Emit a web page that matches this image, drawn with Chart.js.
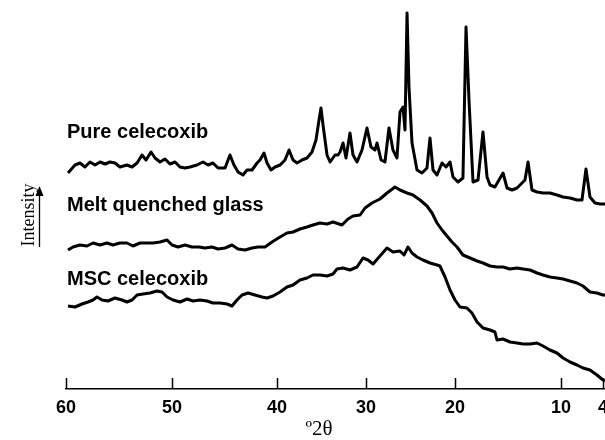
<!DOCTYPE html>
<html>
<head>
<meta charset="utf-8">
<script src="https://cdn.jsdelivr.net/npm/chart.js@4.4.1/dist/chart.umd.min.js"></script>
<style>
  html, body { margin: 0; padding: 0; background: #fff; }
  #wrap { width: 605px; height: 440px; position: relative; }
</style>
</head>
<body>
<div id="wrap"><canvas id="xrpd"></canvas></div>
<script>
// degrees 2-theta, and intensity (arbitrary, offsets included)
var TICK_VALUES = [60, 50, 40, 30, 20, 10, 4];

var PURE = [
    [59.81,216],[59.15,224],[58.68,226],[58.21,222],[57.74,227],[57.26,224],[56.79,227],[56.32,225],
    [55.85,227],[55.38,226],[54.91,222],[54.25,224],[53.77,222],[53.30,226],[52.83,234],[52.45,229],
    [51.98,237],[51.60,231],[51.13,227],[50.66,230],[50.19,225],[49.71,227],[49.24,222],[48.76,221],
    [48.29,222],[47.62,224],[47.05,227],[46.57,224],[46.10,226],[45.62,221],[44.95,221],[44.48,234],
    [44.10,224],[43.71,217],[43.24,214],[42.86,219],[42.38,219],[41.90,226],[41.62,229],[41.24,236],
    [40.95,226],[40.57,219],[40.19,222],[39.66,224],[39.10,229],[38.65,239],[38.20,229],[37.75,226],
    [37.19,229],[36.63,231],[36.07,237],[35.62,249],[35.28,269],[35.06,281],[34.83,264],[34.38,234],
    [34.04,227],[33.48,234],[33.15,234],[32.92,237],[32.58,246],[32.25,231],[31.80,256],[31.46,234],
    [31.01,227],[30.45,239],[29.89,261],[29.44,242],[28.99,239],[28.76,246],[28.31,229],[27.87,227],
    [27.42,261],[26.97,239],[26.52,231],[26.18,277],[25.84,282],[25.62,259],[25.39,376],[25.17,302],
    [24.83,246],[24.27,219],[23.71,216],[23.15,221],[22.81,251],[22.47,219],[22.02,214],[21.46,226],
    [21.01,222],[20.56,227],[20.22,212],[19.72,207],[19.25,211],[18.96,362],[18.68,289],[18.30,207],
    [17.83,209],[17.36,257],[16.98,212],[16.70,204],[16.23,202],[15.47,216],[15.09,201],[14.62,199],
    [14.15,201],[13.68,206],[13.40,209],[13.11,227],[12.74,199],[12.26,197],[11.70,196],[11.04,196],
    [10.38,194],[9.71,192],[8.71,191],[7.71,189],[7.00,189],[6.43,220],[5.86,192],[5.14,186],
    [4.43,185],[3.71,185]
];

var MELT = [
    [59.81,139],[59.34,142],[58.68,144],[58.02,143],[57.45,146],[56.79,144],[56.13,146],[55.57,144],
    [54.91,146],[54.25,146],[53.68,143],[53.02,146],[52.36,146],[51.79,146],[51.13,147],[50.47,149],
    [50.00,144],[49.43,142],[48.76,144],[48.10,142],[47.43,142],[46.86,141],[46.19,142],[45.62,140],
    [44.95,141],[44.29,144],[43.71,140],[43.05,139],[42.38,141],[41.81,142],[41.14,142],[40.48,147],
    [39.66,152],[38.88,156],[38.20,157],[37.42,160],[36.63,162],[35.96,164],[35.17,166],[34.38,165],
    [33.71,167],[32.70,164],[32.02,170],[31.46,173],[30.67,174],[30.11,181],[29.33,186],[28.43,190],
    [27.64,196],[26.74,202],[26.18,199],[25.39,196],[24.72,194],[23.93,189],[23.15,183],[22.58,176],
    [22.02,166],[21.46,159],[20.90,153],[20.34,147],[19.81,142],[19.25,134],[18.58,131],[17.92,128],
    [17.36,126],[16.70,123],[16.04,122],[15.47,122],[14.81,120],[14.15,121],[13.58,120],[12.92,119],
    [12.26,116],[11.70,114],[11.04,112],[10.38,111],[9.71,110],[8.71,108],[7.71,106],[6.86,103],
    [5.86,97],[4.86,96],[4.00,94],[3.71,94]
];

var MSC = [
    [59.81,83],[59.15,82],[58.49,85],[57.92,87],[57.45,89],[57.08,92],[56.60,89],[56.04,88],
    [55.38,91],[54.72,89],[54.25,87],[53.77,89],[53.30,94],[52.74,95],[52.08,96],[51.42,98],
    [50.94,97],[50.47,92],[49.90,89],[49.24,87],[48.57,90],[48.00,88],[47.33,89],[46.67,88],
    [46.10,86],[45.43,86],[44.76,85],[44.29,83],[43.81,89],[43.33,94],[42.76,96],[42.10,94],
    [41.43,92],[40.95,91],[40.38,93],[39.66,97],[38.88,102],[38.20,104],[37.42,109],[36.63,111],
    [35.96,114],[35.17,114],[34.38,113],[33.71,115],[33.26,120],[32.58,121],[31.80,119],[31.01,122],
    [30.34,131],[29.78,129],[29.21,125],[28.43,133],[27.64,141],[26.97,137],[26.18,138],[25.73,134],
    [25.28,142],[24.83,136],[24.27,132],[23.60,129],[22.81,126],[22.02,124],[21.69,123],[21.12,112],
    [20.56,99],[20.00,89],[19.53,82],[18.87,81],[18.40,76],[17.92,67],[17.36,61],[16.70,59],
    [16.23,57],[16.04,49],[15.47,50],[14.81,47],[14.15,46],[13.58,45],[12.92,45],[12.26,46],
    [11.70,43],[11.04,39],[10.38,36],[9.71,31],[8.71,27],[7.71,24],[6.86,21],[5.86,19],
    [4.86,14],[4.00,9],[3.71,8]
];

var TRACE_LABELS = ['Pure celecoxib', 'Melt quenched glass', 'MSC celecoxib'];

// the printed 2-theta axis is not evenly spaced; these knots follow its tick marks
var AXIS_KNOTS = [[60, 0], [50, 0.1967], [40, 0.3915], [30, 0.5566], [20, 0.7217], [10, 0.9184], [3.71, 1]];

function warpFraction(v) {
    for (var i = 0; i < AXIS_KNOTS.length - 1; i++) {
        var a = AXIS_KNOTS[i], b = AXIS_KNOTS[i + 1];
        if (v <= a[0] && v >= b[0]) {
            return a[1] + (a[0] - v) / (a[0] - b[0]) * (b[1] - a[1]);
        }
    }
    return v > 60 ? 0 : 1;
}

function unwarp(f) {
    for (var i = 0; i < AXIS_KNOTS.length - 1; i++) {
        var a = AXIS_KNOTS[i], b = AXIS_KNOTS[i + 1];
        if (f >= a[1] && f <= b[1]) {
            return a[0] - (f - a[1]) / (b[1] - a[1]) * (a[0] - b[0]);
        }
    }
    return f < 0 ? 60 : 3.71;
}

class WarpScale extends Chart.LinearScale {
    buildTicks() {
        return TICK_VALUES.map(function(v) { return { value: v }; });
    }
    getPixelForValue(value) {
        return this.getPixelForDecimal(warpFraction(value));
    }
    getValueForPixel(pixel) {
        return unwarp(this.getDecimalForPixel(pixel));
    }
}
WarpScale.id = 'warp';
WarpScale.defaults = Chart.LinearScale.defaults;
Chart.register(WarpScale);

function toPoints(rows) {
    return rows.map(function(r) { return { x: r[0], y: r[1] }; });
}

var decorPlugin = {
    id: 'decor',
    afterDraw: function(chart) {
        var ctx = chart.ctx;
        var xs = chart.scales.x;
        var area = chart.chartArea;
        ctx.save();
        // tick marks point up into the plot
        ctx.strokeStyle = '#000';
        ctx.lineWidth = 1.5;
        xs.ticks.forEach(function(t) {
            var px = Math.round(xs.getPixelForValue(t.value)) + 0.5;
            ctx.beginPath();
            ctx.moveTo(px, area.bottom);
            ctx.lineTo(px, area.bottom - 11);
            ctx.stroke();
        });

        // trace names
        ctx.fillStyle = '#000';
        ctx.font = 'bold 20px "Liberation Sans", Arial, sans-serif';
        ctx.textAlign = 'left';
        ctx.textBaseline = 'alphabetic';
        ctx.fillText(TRACE_LABELS[0], 67, 138);
        ctx.fillText(TRACE_LABELS[1], 67, 211);
        ctx.fillText(TRACE_LABELS[2], 67, 285);

        // axis title
        ctx.font = '21px "Liberation Serif", "Times New Roman", serif';
        ctx.textAlign = 'center';
        ctx.fillText('\u00BA2\u03B8', 319, 435);

        // intensity label + arrow
        ctx.save();
        ctx.translate(34, 215);
        ctx.rotate(-Math.PI / 2);
        ctx.font = '18px "Liberation Serif", "Times New Roman", serif';
        ctx.fillText('Intensity', 0, 0);
        ctx.restore();

        ctx.lineWidth = 1.3;
        ctx.beginPath();
        ctx.moveTo(39.5, 247);
        ctx.lineTo(39.5, 192);
        ctx.stroke();
        ctx.beginPath();
        ctx.moveTo(39.5, 186);
        ctx.lineTo(35.5, 196);
        ctx.lineTo(43.5, 196);
        ctx.closePath();
        ctx.fill();
        ctx.restore();
    }
};

function traceSet(rows) {
    return {
        data: toPoints(rows),
        borderColor: '#000',
        borderWidth: 3,
        pointRadius: 0,
        tension: 0,
        fill: false,
        borderJoinStyle: 'round'
    };
}

new Chart(document.getElementById('xrpd'), {
    type: 'line',
    data: {
        datasets: [traceSet(PURE), traceSet(MELT), traceSet(MSC)]
    },
    options: {
        responsive: true,
        maintainAspectRatio: false,
        animation: false,
        layout: { padding: { left: 66, right: 0, top: 9, bottom: 0 } },
        plugins: {
            legend: { display: false },
            tooltip: { enabled: false }
        },
        scales: {
            x: {
                type: 'warp',
                min: 3.71,
                max: 60,
                grid: { display: false, drawTicks: false },
                border: { display: true, color: '#000', width: 1.5 },
                ticks: {
                    autoSkip: false,
                    maxRotation: 0,
                    padding: 8,
                    color: '#000',
                    font: { family: '"Liberation Sans", Arial, sans-serif', size: 18, weight: 'bold' },
                    callback: function(v) { return String(v); }
                },
                afterFit: function(scale) {
                    scale.height = 51;
                    scale.paddingLeft = 0;
                    scale.paddingRight = 0;
                }
            },
            y: {
                display: false,
                min: 0,
                max: 380
            }
        }
    },
    plugins: [decorPlugin]
});
</script>
</body>
</html>
